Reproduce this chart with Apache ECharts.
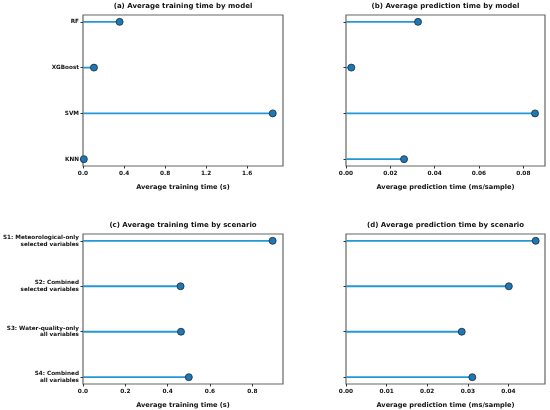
<!DOCTYPE html>
<html>
<head>
<meta charset="utf-8">
<script src="https://cdn.jsdelivr.net/npm/echarts@6/dist/echarts.min.js"></script>
<style>
  html, body { margin: 0; padding: 0; background: #fff; }
  #chart { width: 550px; height: 410px; }
</style>
</head>
<body>
<div id="chart"></div>
<script>
// 数据
const models = ['RF', 'XGBoost', 'SVM', 'KNN'];
const modelTrain = [0.357, 0.107, 1.85, 0.008];
const modelPredict = [0.0325, 0.0024, 0.0853, 0.0262];

const scenarios = [
    'S1: Meteorological-only\nselected variables',
    'S2: Combined\nselected variables',
    'S3: Water-quality-only\nall variables',
    'S4: Combined\nall variables'
];
const scenarioTrain = [0.896, 0.461, 0.463, 0.500];
const scenarioPredict = [0.0467, 0.0401, 0.0285, 0.0311];

const ticksA = [0, 0.4, 0.8, 1.2, 1.6];
const ticksB = [0, 0.02, 0.04, 0.06, 0.08];
const ticksC = [0, 0.2, 0.4, 0.6, 0.8];
const ticksD = [0, 0.01, 0.02, 0.03, 0.04];
const maxA = 1.95, maxB = 0.0898, maxC = 0.945, maxD = 0.049;

const FONT = 'DejaVu Sans';
const stemColor = '#2299d4';
const dotColor = '#1f77b4';

const panels = [
    { title: '(a) Average training time by model', cats: models, vals: modelTrain, ticks: ticksA, max: maxA, dec: 1,
      name: 'Average training time (s)', left: 83, top: 15, width: 200, height: 151, showY: true },
    { title: '(b) Average prediction time by model', cats: models, vals: modelPredict, ticks: ticksB, max: maxB, dec: 2,
      name: 'Average prediction time (ms/sample)', left: 346, top: 15, width: 199, height: 151, showY: false },
    { title: '(c) Average training time by scenario', cats: scenarios, vals: scenarioTrain, ticks: ticksC, max: maxC, dec: 1,
      name: 'Average training time (s)', left: 83, top: 234, width: 200, height: 150, showY: true },
    { title: '(d) Average prediction time by scenario', cats: scenarios, vals: scenarioPredict, ticks: ticksD, max: maxD, dec: 2,
      name: 'Average prediction time (ms/sample)', left: 346, top: 234, width: 199, height: 150, showY: false }
];

const option = { animation: false, title: [], grid: [], xAxis: [], yAxis: [], series: [] };

panels.forEach((p, i) => {
    option.title.push({
        text: p.title,
        left: p.left + p.width / 2,
        top: p.top - 12,
        padding: 0,
        textAlign: 'center',
        textStyle: { fontFamily: FONT, fontSize: 7, fontWeight: 'bold', color: '#111' }
    });
    option.grid.push({
        left: p.left, top: p.top, width: p.width, height: p.height,
        outerBoundsMode: 'none', containLabel: false,
        show: true, borderColor: '#666', borderWidth: 1.2, backgroundColor: 'transparent'
    });
    option.xAxis.push({
        type: 'value', gridIndex: i, min: 0, max: p.max,
        name: p.name, nameLocation: 'middle', nameGap: 18,
        nameTextStyle: { fontFamily: FONT, fontSize: 6.6, fontWeight: 'bold', color: '#111' },
        axisLine: { show: false, onZero: false },
        axisTick: { show: true, length: 2.5, lineStyle: { color: '#333' }, customValues: p.ticks },
        axisLabel: {
            customValues: p.ticks, margin: 4,
            fontFamily: FONT, fontSize: 5.8, fontWeight: 'bold', color: '#111',
            formatter: v => v.toFixed(p.dec)
        },
        splitLine: { show: false }
    });
    option.yAxis.push({
        type: 'value', gridIndex: i, min: -0.15, max: 3.15, inverse: true,
        axisLine: { show: false, onZero: false },
        axisTick: { show: true, length: 2.5, lineStyle: { color: '#333' }, customValues: [0, 1, 2, 3] },
        axisLabel: {
            show: p.showY, customValues: [0, 1, 2, 3], margin: 4,
            fontFamily: FONT, fontSize: 5.7, fontWeight: 'bold', color: '#111', lineHeight: 6.5,
            align: 'right',
            formatter: v => p.cats[Math.round(v)] || ''
        },
        splitLine: { show: false }
    });
    const pts = p.vals.map((v, k) => [v, k]);
    option.series.push({
        type: 'custom', xAxisIndex: i, yAxisIndex: i, data: pts, clip: true,
        renderItem: (params, api) => {
            const start = api.coord([0, api.value(1)]);
            const end = api.coord([api.value(0), api.value(1)]);
            return {
                type: 'line',
                shape: { x1: start[0], y1: start[1], x2: end[0], y2: end[1] },
                style: { stroke: stemColor, lineWidth: 1.8 }
            };
        }
    });
    option.series.push({
        type: 'scatter', xAxisIndex: i, yAxisIndex: i, data: pts, clip: true,
        symbolSize: 7,
        itemStyle: { color: dotColor, borderColor: '#1b2a3a', borderWidth: 0.8, opacity: 1 }
    });
});

const myChart = echarts.init(document.getElementById('chart'));
myChart.setOption(option);
</script>
</body>
</html>
